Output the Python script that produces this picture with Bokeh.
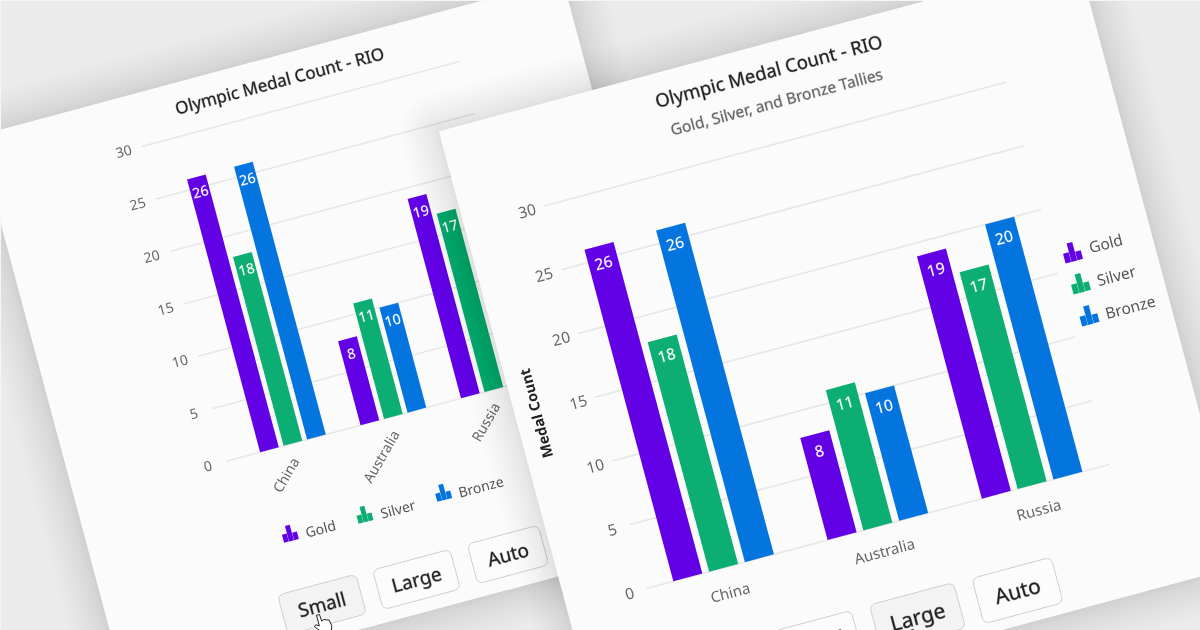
import math
from bokeh.plotting import figure
from bokeh.embed import file_html
from bokeh.resources import INLINE
from bokeh.core.properties import value

# ---- data ----
categories = ["China", "Australia", "Russia"]
gold = [26, 8, 19]
silver = [18, 11, 17]
bronze = [26, 10, 20]
series_names = ["Gold", "Silver", "Bronze"]
series_colors = ["#6200E6", "#0CAE74", "#0475DE"]
y_ticks = [0, 5, 10, 15, 20, 25, 30]
title_text = "Olympic Medal Count - RIO"
subtitle_text = "Gold, Silver, and Bronze Tallies"
y_title = "Medal Count"
buttons = ["Small", "Large", "Auto"]

series = [gold, silver, bronze]
FONT = value("Noto Sans")
A = math.radians(15)
C, S = math.cos(A), math.sin(A)
DEG = A

p = figure(width=1200, height=630, x_range=(0, 1200), y_range=(630, 0),
           output_backend="svg", toolbar_location=None, min_border=0,
           background_fill_color="#EBEBEB", border_fill_color="#EBEBEB",
           outline_line_color=None)
p.axis.visible = False
p.grid.visible = False
p.styles = {"position": "fixed", "left": "0", "top": "0"}


def frame(ox, oy):
    def P(u, v):
        return (ox + u * C - v * S, oy - u * S - v * C)
    return P


def poly(P, pts):
    xy = [P(u, v) for u, v in pts]
    return [q[0] for q in xy], [q[1] for q in xy]


def rrect(u0, v0, u1, v1, r):
    pts = []
    for cu, cv, a0 in [(u1 - r, v1 - r, 0), (u0 + r, v1 - r, 90),
                       (u0 + r, v0 + r, 180), (u1 - r, v0 + r, 270)]:
        for k in range(7):
            t = math.radians(a0 + k * 15)
            pts.append((cu + r * math.cos(t), cv + r * math.sin(t)))
    return pts


def txt(x, y, s, size, color, align="center", angle=DEG, style="normal", outline=None):
    kw = {}
    if outline:
        kw = dict(text_outline_color=outline)
    p.text([x], [y], text=[s], text_font=FONT, text_font_size=f"{size}px",
           text_color=color, text_align=align, text_baseline="middle", angle=angle,
           text_font_style=style, **kw)


DARK_EDGE = "rgba(34,34,34,0.35)"
WHITE_EDGE = "rgba(255,255,255,0.2)"


def card(tlx, tly, w, h):
    P = frame(tlx, tly)  # v is up, so the card spans v from -h to 0
    n = 30
    for i in range(n):
        d = 40 * ((n - i) / n) ** 1.6
        xs, ys = poly(P, rrect(-d, -h - d, w + d, d, d))
        p.patch(xs, ys, fill_color="black", fill_alpha=0.0036, line_color=None)
    xs, ys = poly(P, [(0, 0), (w, 0), (w, -h), (0, -h)])
    p.patch(xs, ys, fill_color="#FBFBFB", line_color=None)


def chart(P, pad, step, unit, length, bw, off, font, tick_u, gw=1.4):
    xs, ys = [], []
    for t in y_ticks:
        a, b = P(0, t * unit), P(length, t * unit)
        xs.append([a[0], b[0]])
        ys.append([a[1], b[1]])
    p.multi_line(xs, ys, line_color="#E6E6E6", line_width=gw)
    for t in y_ticks:
        x, y = P(tick_u, t * unit)
        txt(x, y, str(t), font, "#666666")
    for si, vals in enumerate(series):
        pxs, pys = [], []
        for ci, val in enumerate(vals):
            c = pad + step * (ci + 0.5) + off * (si - 1) * step
            u0, u1 = c - bw * step / 2, c + bw * step / 2
            a, b = poly(P, [(u0, 0), (u1, 0), (u1, val * unit), (u0, val * unit)])
            pxs.append(a)
            pys.append(b)
        p.patches(pxs, pys, fill_color=series_colors[si], line_color=None)
    for si, vals in enumerate(series):
        for ci, val in enumerate(vals):
            c = pad + step * (ci + 0.5) + off * (si - 1) * step
            x, y = P(c, val * unit - font * 1.1)
            txt(x, y, str(val), font, "white", outline=WHITE_EDGE)


def legend_icon(cx, cy, color, k=1.0):
    Q = frame(cx, cy)
    for u0, u1, h in [(-9, -3.2, 1), (-2.9, 2.9, 10), (3.2, 9, 0)]:
        a, b = poly(Q, [(u0 * k, -9 * k), (u1 * k, -9 * k), (u1 * k, h * k), (u0 * k, h * k)])
        p.patch(a, b, fill_color=color, line_color=None)


def button(cx, cy, w, h, label, size, selected):
    Q = frame(cx, cy)
    a, b = poly(Q, rrect(-w / 2, -h / 2, w / 2, h / 2, 6))
    p.patch(a, b, fill_color="#F3F3F3" if selected else "#FCFCFC",
            line_color="#CFCFCF", line_width=1)
    txt(cx, cy, label, size, "#222222", outline=DARK_EDGE)


def hand(cx, cy, k):
    Q = frame(cx, cy)
    shape = [(-2, 8), (1, 8), (1.5, 1), (4, 2), (6.5, 1), (9, 0), (10, -6), (8, -12), (1, -12),
             (-5, -5), (-7, -2), (-5, -1), (-2, -3)]
    a, b = poly(Q, [(u * k, v * k) for u, v in shape])
    p.patch(a, b, fill_color="white", line_color="#222222", line_width=1)


# ---- left card ----
card(-23.3, 135.3, 606, 576)
PL = frame(225.8, 460.7)
chart(PL, 17, 104, 10.86, 330, 0.186, 0.234, 14, -19)
txt(279, 80, title_text, 17, "#222222", outline=DARK_EDGE)
for name, (x, y) in zip(categories, [(294.6, 458), (395, 430.7), (495.5, 403)]):
    txt(x, y, name, 14, "#666666", align="right", angle=math.radians(60))
for i, ((ix, iy), (tx, ty)) in enumerate(zip([(289, 533), (363.6, 514), (442.3, 492)],
                                             [(305, 532), (380, 513), (458, 492)])):
    legend_icon(ix, iy, series_colors[i], 0.85)
    txt(tx, ty, series_names[i], 14, "#555555", align="left")
for lab, (x, y, w), sel in zip(buttons, [(321.5, 604, 81), (416, 579, 80), (507.5, 554, 73.5)],
                               [True, False, False]):
    button(x, y, w, 41, lab, 19, sel)
hand(320, 622, 1.0)

# ---- right card ----
card(438.3, 130.7, 662, 627.5)
PR = frame(646, 588)
chart(PR, 0, 159.7, 13.2, 479, 0.188, 0.232, 15.5, -17.7, gw=1.6)
txt(768, 70, title_text, 18.5, "#222222", outline=DARK_EDGE)
txt(776, 101, subtitle_text, 15.5, "#666666", outline="rgba(102,102,102,0.3)")
txt(535, 413, y_title, 14.5, "#222222", angle=math.radians(105), style="bold")
for i, name in enumerate(categories):
    x, y = PR(79.85 + 159.7 * i, -25)
    txt(x, y, name, 15, "#666666")
for i, ((ix, iy), (tx, ty)) in enumerate(zip([(1071.5, 252), (1079.5, 283), (1088, 315)],
                                             [(1088.7, 247), (1096.7, 280), (1105, 313)])):
    legend_icon(ix, iy, series_colors[i], 1.0)
    txt(tx, ty, series_names[i], 15.5, "#555555", align="left")
for lab, (x, y, w), sel in zip(buttons, [(818, 643, 80), (917, 616, 87), (1017, 590, 82)],
                               [False, True, False]):
    button(x, y, w, 47, lab, 21, sel)
hand(914, 637, 1.0)

open("out.html", "w").write(file_html(p, INLINE))
